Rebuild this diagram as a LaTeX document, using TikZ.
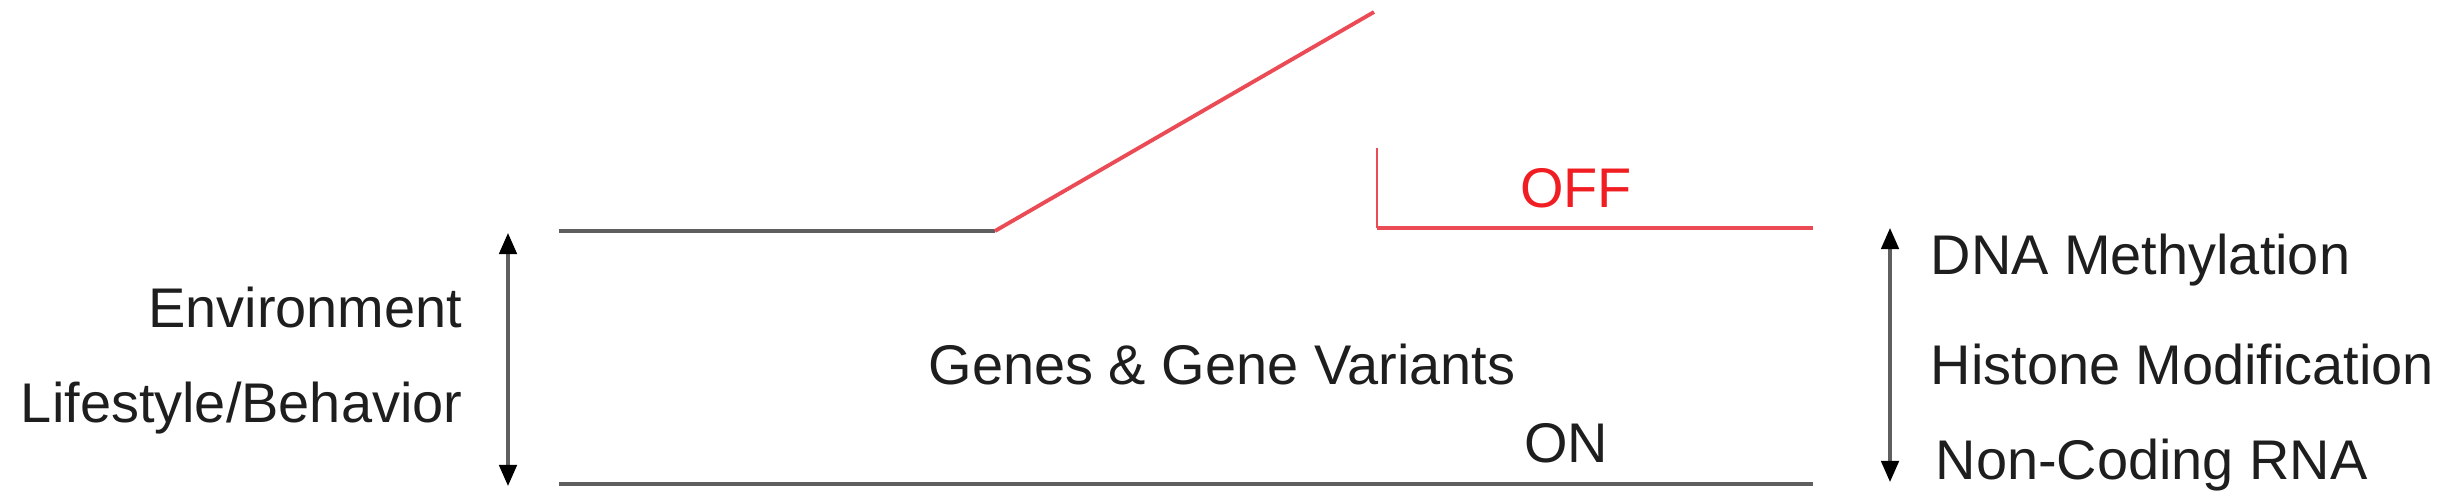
\documentclass[tikz,border=0pt]{standalone}
\usepackage{fontspec}
\setmainfont{Liberation Sans}
\usetikzlibrary{arrows.meta}
\definecolor{strang}{RGB}{95,95,95}
\definecolor{schalter}{RGB}{235,75,85}
\definecolor{auslabel}{RGB}{240,30,35}
\definecolor{schrift}{RGB}{30,30,30}
\tikzset{
	label/.style={inner sep=0pt, text=schrift, font=\fontsize{15.9}{19}\selectfont},
	strand/.style={line width=1.3pt, draw=strang},
	switch/.style={line width=1.1pt, draw=schalter},
	pfeil/.style={line width=0.9pt, draw=strang, {Triangle[length=6pt,width=5pt,color=black]}-{Triangle[length=6pt,width=5pt,color=black]}}
}
\begin{document}
\begin{tikzpicture}[x=0.01cm, y=-0.01cm]
	\useasboundingbox (0,0) rectangle (2449,504);
	% Punkte der Linien
	\coordinate (obenL) at (559,231);
	\coordinate (knick) at (995,231);
	\coordinate (hebel) at (1374,12);
	\coordinate (ausT) at (1377,148);
	\coordinate (ausE) at (1377,228);
	\coordinate (ausR) at (1813,228);
	\coordinate (untenL) at (559,484);
	\coordinate (untenR) at (1813,484);
	\coordinate (pfLo) at (508,233);
	\coordinate (pfLu) at (508,486);
	\coordinate (pfRo) at (1890,228);
	\coordinate (pfRu) at (1890,482);
	% Strang oben und unten
	\draw[strand] (obenL) -- (knick);
	\draw[strand] (untenL) -- (untenR);
	% Schalter
	\draw[switch] (knick) -- (hebel);
	\draw[switch, line width=0.6pt] (ausT) -- (ausE);
	\draw[switch] (ausE) -- (ausR);
	% Pfeile
	\draw[pfeil] (pfLo) -- (pfLu);
	\draw[pfeil] (pfRo) -- (pfRu);
	% Beschriftungen links
	\node[label, anchor=base east] (umwelt) at (463,328) {Environment};
	\node[label, anchor=base east] (lebensstil) at (463,423) {Lifestyle/Behavior};
	% Beschriftungen Mitte
	\node[label, anchor=base west] (gene) at (928,385) {Genes \& Gene Variants};
	\node[label, anchor=base, text=auslabel] (aus) at (1576,208) {OFF};
	\node[label, anchor=base] (an) at (1566,463) {ON};
	% Beschriftungen rechts
	\node[label, anchor=base west] (dna) at (1930,275) {DNA Methylation};
	\node[label, anchor=base west] (histon) at (1930,385) {Histone Modification};
	\node[label, anchor=base west] (rna) at (1935,480) {Non-Coding RNA};
\end{tikzpicture}
\end{document}
